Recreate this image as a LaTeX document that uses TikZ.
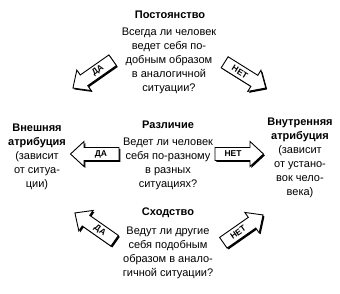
\documentclass[tikz,border=0pt]{standalone}
\usepackage{fontspec}
\setmainfont{Liberation Sans}
\tikzset{
  txt/.style={align=center, inner sep=0pt, font=\fontsize{11}{14}\selectfont},
  ttl/.style={inner sep=0pt, font=\fontsize{11}{14}\selectfont\bfseries},
  arrowlbl/.style={inner sep=0pt, font=\fontsize{8.5}{8.5}\selectfont\bfseries},
  arrowshape/.style={line width=0.9pt, line join=miter}
}
\newcommand\myarrowpath{(-24,-6.5) -- (11,-6.5) -- (11,-12.5) -- (24.5,0) -- (11,12.5) -- (11,6.5) -- (-24,6.5) -- cycle}
\newcommand\myarrow[6]{%
  \begin{scope}[shift={({#2+1.4},{#3+1.4})},rotate=#4]
    \fill[black,xscale=#5] \myarrowpath;
  \end{scope}
  \begin{scope}[shift={(#2,#3)},rotate=#4]
    \draw[arrowshape,fill=white,xscale=#5] \myarrowpath;
    \node[arrowlbl,transform shape] (#1) at ({-6*#5},0) {#6};
  \end{scope}}
\begin{document}
\begin{tikzpicture}[x=1pt,y=-1pt]
\path[use as bounding box] (0,0) rectangle (340,294);
% top
\node[ttl] (postt) at (170,15) {Постоянство};
\node[txt] (postb) at (169,61) {Всегда ли человек\\ведет себя по-\\добным образом\\в аналогичной\\ситуации?};
% middle
\node[ttl] (razt) at (168,125) {Различие};
\node[txt] (razb) at (168,164) {Ведет ли человек\\себя по-разному\\в разных\\ситуациях?};
% bottom
\node[ttl] (shot) at (168,213) {Сходство};
\node[txt] (shob) at (168,253) {Ведут ли другие\\себя подобным\\образом в анало-\\гичной ситуации?};
% left / right
\node[txt] (ext) at (37,157) {\textbf{Внешняя}\\\textbf{атрибуция}\\(зависит\\от ситуа-\\ции)};
\node[txt] (int) at (300,158) {\textbf{Внутренняя}\\\textbf{атрибуция}\\(зависит\\от устано-\\вок чело-\\века)};
% arrows
\myarrow{a1}{93}{74}{35}{-1}{ДА}
\myarrow{a2}{245}{75}{-32}{1}{НЕТ}
\myarrow{a3}{95}{154}{0}{-1}{ДА}
\myarrow{a4}{239}{154}{0}{1}{НЕТ}
\myarrow{a5}{95}{227}{-35}{-1}{ДА}
\myarrow{a6}{243}{229}{35}{1}{НЕТ}
\end{tikzpicture}
\end{document}
